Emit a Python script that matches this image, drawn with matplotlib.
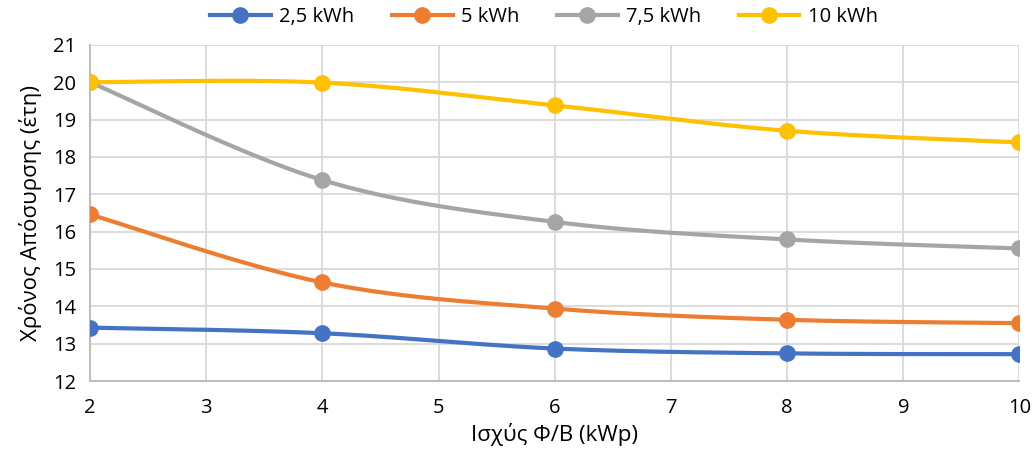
# coding: utf-8

"""Retirement time vs PV power for several battery capacities."""

import numpy as np
import matplotlib.pyplot as plt

plt.rcParams['font.family'] = ['Open Sans', 'DejaVu Sans']

# data
power = [2, 4, 6, 8, 10]  # kWp
labels = ['2,5 kWh', '5 kWh', '7,5 kWh', '10 kWh']
years_2_5 = [13.43, 13.28, 12.87, 12.74, 12.72]
years_5 = [16.46, 14.64, 13.94, 13.64, 13.55]
years_7_5 = [20.0, 17.38, 16.26, 15.79, 15.55]
years_10 = [20.0, 19.99, 19.38, 18.70, 18.39]
colors = ['#4472C4', '#ED7D31', '#A5A5A5', '#FFC000']


def smooth(x, y, n=40):
    """Bezier smoothing through the points (spreadsheet style)."""
    p = np.column_stack([x, y]).astype(float)
    ext = np.vstack([p[0], p, p[-1]])
    t = np.linspace(0, 1, n)[:, None]
    out = []
    for i in range(len(p) - 1):
        p0, p3 = p[i], p[i + 1]
        c1 = p0 + (ext[i + 2] - ext[i]) / 6
        c2 = p3 - (ext[i + 3] - ext[i + 1]) / 6
        seg = ((1 - t) ** 3) * p0 + 3 * ((1 - t) ** 2) * t * c1 \
            + 3 * (1 - t) * t ** 2 * c2 + t ** 3 * p3
        out.append(seg)
    out = np.vstack(out)
    return out[:, 0], out[:, 1]


fig, ax = plt.subplots(figsize=(10.36, 4.58), dpi=100)
fig.subplots_adjust(left=0.087, right=0.984, top=0.902, bottom=0.168)

for ys, lab, col in zip([years_2_5, years_5, years_7_5, years_10], labels, colors):
    sx, sy = smooth(power, ys)
    ax.plot(sx, sy, color=col, lw=3, solid_capstyle='round', zorder=3)
    ax.plot(power, ys, 'o', color=col, ms=11, zorder=4)
    ax.plot([], [], '-o', color=col, lw=3, ms=11, label=lab)

ax.set_xlim(2, 10)
ax.set_ylim(12, 21)
ax.set_xticks(range(2, 11))
ax.set_yticks(range(12, 22))
ax.grid(True, color='#D9D9D9', lw=1.3)
ax.set_axisbelow(True)
for s in ['top', 'right']:
    ax.spines[s].set_visible(False)
for s in ['left', 'bottom']:
    ax.spines[s].set_color('#BFBFBF')
    ax.spines[s].set_linewidth(1.5)
ax.tick_params(length=0, labelsize=14.5, colors='#000000', pad=10)
ax.tick_params(axis='x', pad=12)

ax.set_xlabel('Ισχύς Φ/Β (kWp)', fontsize=16, labelpad=4)
ax.set_ylabel('Χρόνος Απόσυρσης (έτη)', fontsize=16, labelpad=8)

fig.legend(loc='upper center', bbox_to_anchor=(0.525, 1.025), ncol=4,
           frameon=False, fontsize=14.5, handlelength=3, handletextpad=0.4,
           columnspacing=1.9)

plt.savefig('out.png', dpi=100)
